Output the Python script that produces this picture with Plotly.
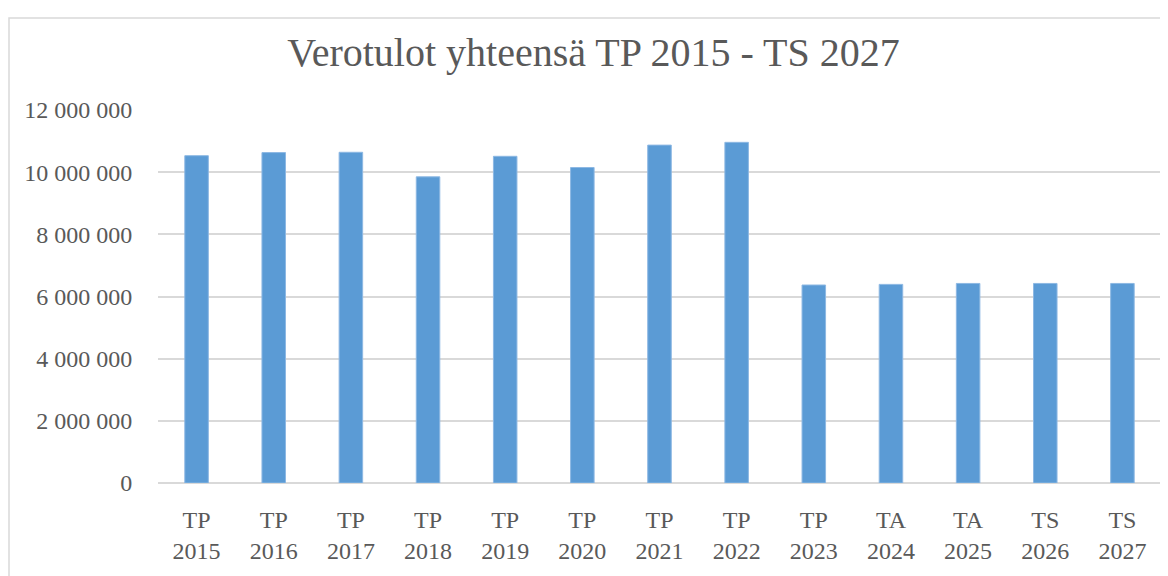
import plotly.graph_objects as go

categories = ["TP<br>2015", "TP<br>2016", "TP<br>2017", "TP<br>2018", "TP<br>2019",
              "TP<br>2020", "TP<br>2021", "TP<br>2022", "TP<br>2023", "TA<br>2024",
              "TA<br>2025", "TS<br>2026", "TS<br>2027"]
values = [10530000, 10630000, 10640000, 9850000, 10510000, 10150000, 10870000,
          10960000, 6370000, 6390000, 6420000, 6420000, 6420000]
y_tickvals = [0, 2000000, 4000000, 6000000, 8000000, 10000000, 12000000]
y_ticktext = ["0", "2 000 000", "4 000 000", "6 000 000", "8 000 000", "10 000 000", "12 000 000"]

FONT = "Liberation Serif"
TXT = "#595959"

W, H = 1160, 568
L, R, T, B = 150, 7, 102, 93
PW, PH = W - L - R, H - T - B

fig = go.Figure(go.Bar(x=categories, y=values, marker=dict(color="#5B9BD5",
                line=dict(color="#8DB8E3", width=1)), hoverinfo="y"))

fig.update_layout(
    width=W, height=H,
    margin=dict(l=L, r=R, t=T, b=B),
    paper_bgcolor="white", plot_bgcolor="white",
    title=dict(text="Verotulot yhteensä TP 2015 - TS 2027", x=(593.5 - 8) / W, xref="container",
               xanchor="center", y=1 - 44 / H, yref="container", yanchor="middle",
               font=dict(family=FONT, size=40, color=TXT)),
    bargap=0.695,
    showlegend=False,
    xaxis=dict(tickfont=dict(family=FONT, size=24, color=TXT), showgrid=False,
               showline=False, ticks="outside", ticklen=15, tickcolor="rgba(0,0,0,0)"),
    yaxis=dict(range=[0, 12000000], tickvals=y_tickvals, ticktext=y_ticktext,
               tickfont=dict(family=FONT, size=24, color=TXT),
               showgrid=True, gridcolor="#D9D9D9", gridwidth=1.5,
               zeroline=True, zerolinecolor="#D9D9D9", zerolinewidth=1.5,
               ticks="outside", ticklen=20, tickcolor="rgba(0,0,0,0)"),
    shapes=[dict(type="rect", xref="paper", yref="paper",
                 x0=(1 - L) / PW, x1=(W + 5 - L) / PW, y0=-(B + 5) / PH, y1=(H - T - 1) / PH,
                 line=dict(color="#D9D9D9", width=1.5), fillcolor="rgba(0,0,0,0)", layer="below")]
)
fig.write_html("out.html")
